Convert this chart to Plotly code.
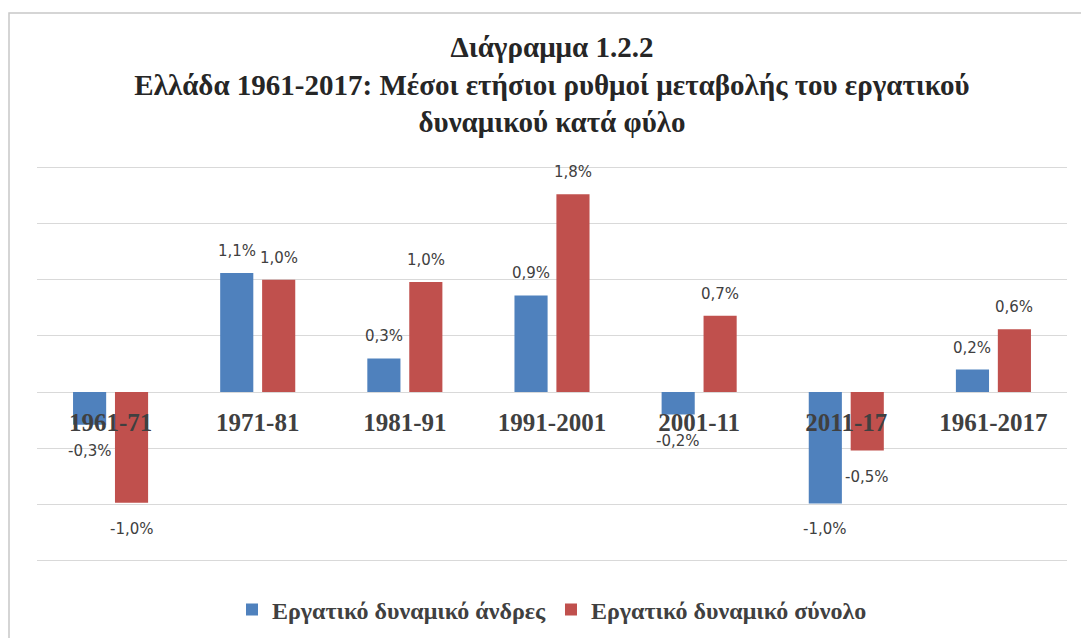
import plotly.graph_objects as go

# ---- data ----
categories = ["1961-71", "1971-81", "1981-91", "1991-2001", "2001-11", "2011-17", "1961-2017"]
men_values = [-0.29, 1.06, 0.30, 0.86, -0.20, -0.99, 0.20]
total_values = [-0.985, 1.00, 0.98, 1.76, 0.68, -0.52, 0.56]
series_names = ["Εργατικό δυναμικό άνδρες", "Εργατικό δυναμικό σύνολο"]
series_colors = ["#4F81BD", "#C0504D"]
title_lines = [
    "Διάγραμμα 1.2.2",
    "Ελλάδα 1961-2017: Μέσοι ετήσιοι ρυθμοί μεταβολής του εργατικού",
    "δυναμικού κατά φύλο",
]
y_min, y_max, y_step = -1.5, 2.0, 0.5

BARGAP = 0.43
BARGROUPGAP = 0.21


def fmt(v):
    return f"{v:.1f}".replace(".", ",") + "%"


fig = go.Figure()
all_series = [men_values, total_values]
for name, vals, col in zip(series_names, all_series, series_colors):
    fig.add_trace(go.Bar(
        x=categories, y=vals, name=name,
        marker=dict(color=col, line=dict(width=0)),
        hoverinfo="x+y",
    ))

# data labels placed at bar centres (offset derived from bar layout params)
n_series = len(all_series)
slot = (1 - BARGAP) / n_series
annotations = []
for s, vals in enumerate(all_series):
    offset = -(1 - BARGAP) / 2 + slot * (s + 0.5)
    for i, v in enumerate(vals):
        annotations.append(dict(
            x=i + offset, y=v, xref="x", yref="y",
            text=fmt(v), showarrow=False,
            yanchor="middle", xanchor="center",
            yshift=22 if v >= 0 else -26,
            font=dict(family="DejaVu Sans", size=15, color="#404040"),
        ))

pad = 0.02  # keep edge gridlines inside the plot area
lo, hi = y_min - pad, y_max + pad
zero_pos = (0 - lo) / (hi - lo)

L, R, T, B = 37, 14, 165, 75
W, H = 1081, 638
pw, ph = W - L - R, H - T - B

fig.update_layout(
    width=W, height=H,
    margin=dict(l=L, r=R, t=T, b=B, autoexpand=False),
    paper_bgcolor="white", plot_bgcolor="white",
    barmode="group", bargap=BARGAP, bargroupgap=BARGROUPGAP,
    title=dict(
        text="<br>".join(title_lines),
        x=0.5, xanchor="center", xref="paper",
        y=1 - 57 / H, yanchor="top", yref="container",
        font=dict(family="Liberation Serif", size=29, color="#262626", weight="bold"),
    ),
    xaxis=dict(
        type="category", anchor="free", position=zero_pos,
        showgrid=False, showline=False, zeroline=False, ticks="",
        tickfont=dict(family="Liberation Serif", size=25, color="#404040", weight="bold"),
        ticklabelstandoff=13,
        layer="above traces", automargin=False,
    ),
    yaxis=dict(
        range=[lo, hi], dtick=y_step, tick0=0,
        showgrid=True, gridcolor="#D9D9D9", gridwidth=1,
        zeroline=True, zerolinecolor="#D9D9D9", zerolinewidth=1,
        showticklabels=False, ticks="", showline=False, automargin=False,
    ),
    legend=dict(
        orientation="h", x=0.5, xanchor="center",
        y=(H - 610) / H, yref="container", yanchor="middle",
        font=dict(family="Liberation Serif", size=24, color="#404040", weight="bold"),
        itemwidth=30, traceorder="normal",
    ),
    annotations=annotations,
    showlegend=True,
)

# chart frame (light grey border, starting top-left as in the reference)
fig.add_shape(
    type="rect", xref="paper", yref="paper",
    x0=(9 - L) / pw, x1=(W + 10 - L) / pw,
    y0=-(B + 10) / ph, y1=1 + (T - 13) / ph,
    line=dict(color="#C8C8C8", width=1.5), fillcolor="rgba(0,0,0,0)",
    layer="below",
)

fig.write_html(
    "out.html",
    config={"displayModeBar": False},
    post_script="document.body.style.margin='0';",
)
